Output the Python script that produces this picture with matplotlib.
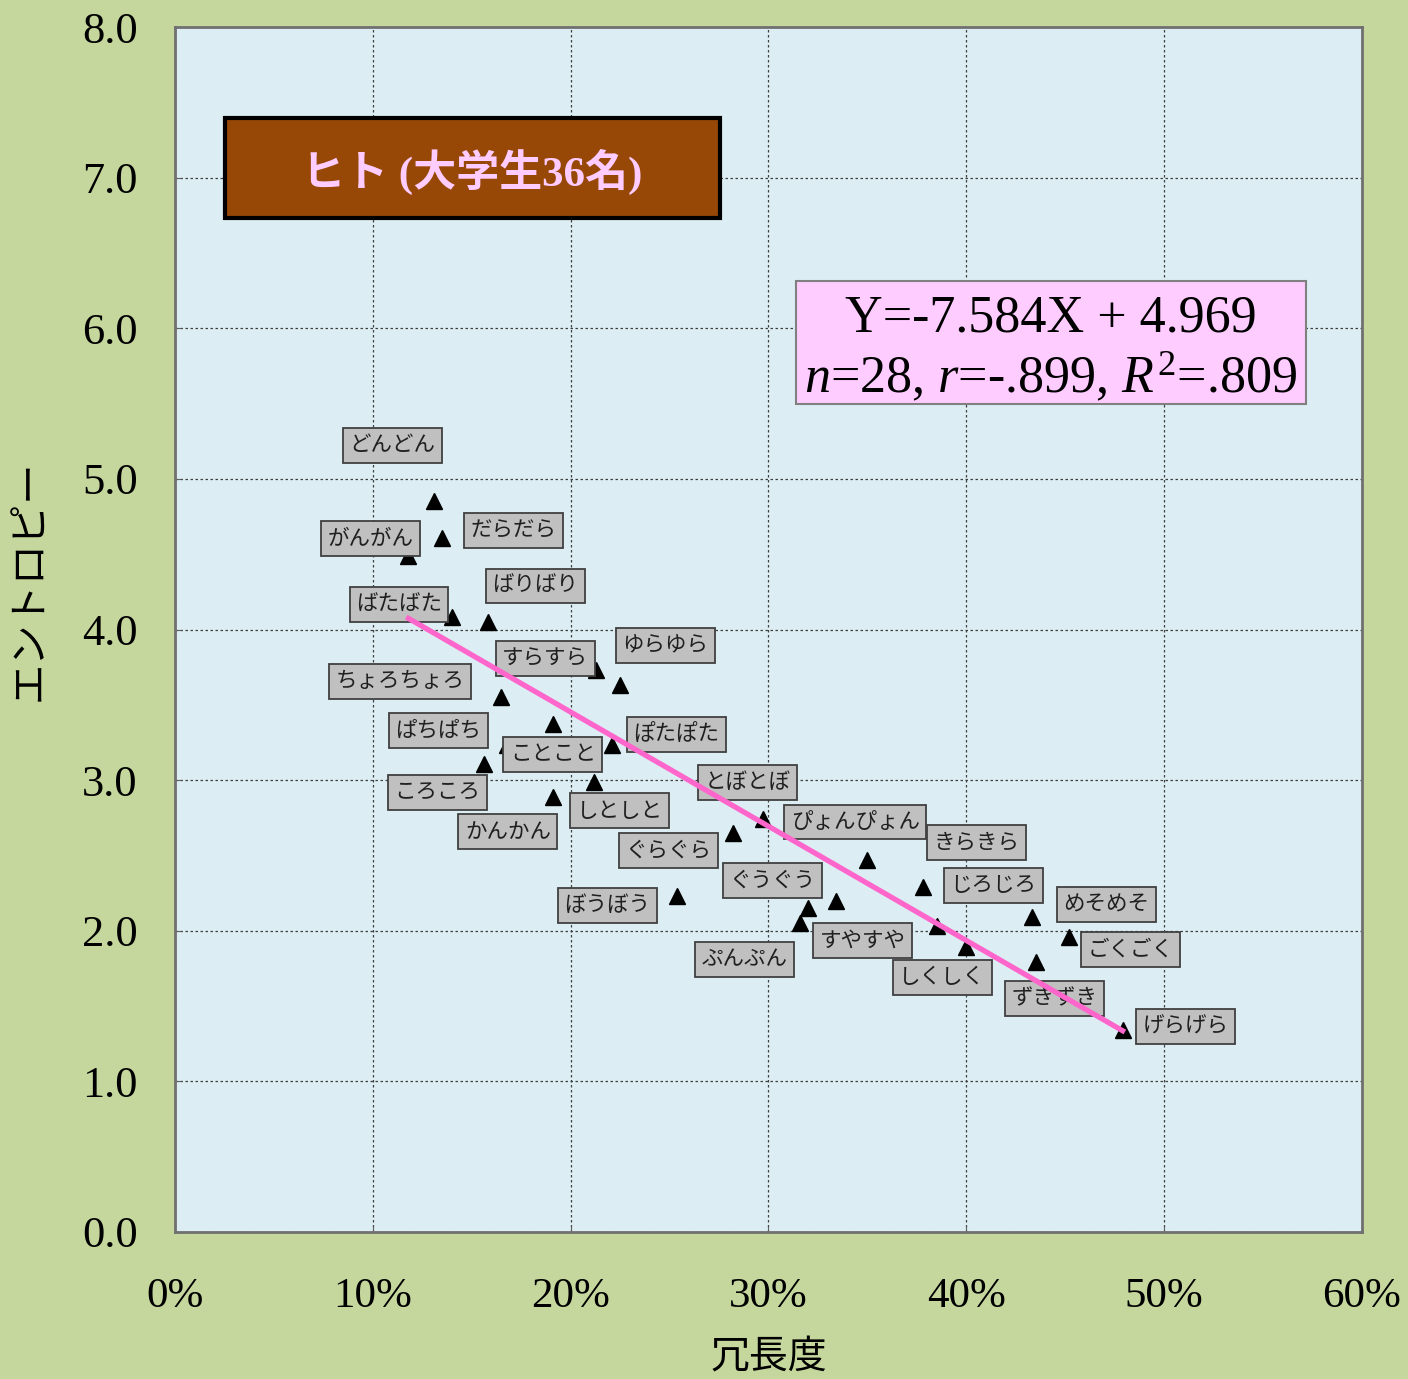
import matplotlib
matplotlib.use('Agg')
import matplotlib.pyplot as plt
from matplotlib.patches import Rectangle
from matplotlib.ticker import FuncFormatter

plt.rcParams['font.family'] = ['Liberation Serif', 'Noto Sans CJK JP']
plt.rcParams['mathtext.fontset'] = 'custom'
plt.rcParams['mathtext.rm'] = 'Liberation Serif'
plt.rcParams['mathtext.it'] = 'Liberation Serif:italic'

words = ['どんどん', 'がんがん', 'だらだら', 'ばりばり', 'ばたばた', 'すらすら', 'ゆらゆら',
         'ちょろちょろ', 'ぱちぱち', 'ことこと', 'ぽたぽた', 'ころころ', 'しとしと', 'かんかん',
         'とぼとぼ', 'ぐらぐら', 'ぴょんぴょん', 'きらきら', 'ぐうぐう', 'ぼうぼう', 'すやすや',
         'ぷんぷん', 'じろじろ', 'しくしく', 'めそめそ', 'ごくごく', 'ずきずき', 'げらげら']
redundancy = [0.131, 0.118, 0.135, 0.158, 0.140, 0.213, 0.225,
              0.165, 0.168, 0.191, 0.221, 0.156, 0.212, 0.191,
              0.297, 0.282, 0.350, 0.378, 0.320, 0.254, 0.334,
              0.316, 0.385, 0.400, 0.433, 0.452, 0.435, 0.479]
entropy = [4.85, 4.49, 4.61, 4.05, 4.08, 3.73, 3.63,
           3.55, 3.23, 3.37, 3.23, 3.11, 2.99, 2.89,
           2.74, 2.65, 2.47, 2.29, 2.15, 2.23, 2.20,
           2.05, 2.03, 1.89, 2.09, 1.96, 1.79, 1.34]

slope = -7.584
intercept = 4.969

# label box offsets from each point (pixels, x right / y up)
label_offsets = [(-42, 56), (-38, 17), (71, 7), (48, 36), (-53, 13), (-51, 12), (45, 40),
                 (-101, 16), (-69, 15), (0, -30), (64, 11), (-46, -29), (25, -29), (-45, -35),
                 (-15, 37), (-64, -18), (-12, 38), (54, 45), (-36, 28), (-70, -9), (27, -40),
                 (-56, -36), (57, 41), (-24, -30), (75, 13), (61, -13), (19, -36), (63, 4)]

fig = plt.figure(figsize=(14.08, 13.79), dpi=100, facecolor='#C5D79D')
ax = fig.add_axes([0.1243, 0.1066, 0.843, 0.8738], facecolor='#DCEEF4')

ax.plot(redundancy, entropy, linestyle='none', marker='^', color='black',
        markersize=11, zorder=3)

for w, x, y, (dx, dy) in zip(words, redundancy, entropy, label_offsets):
    ax.annotate(w, (x, y), xytext=(dx * 0.72, dy * 0.72), textcoords='offset points',
                ha='center', va='center', fontsize=15.5, color='#202020',
                family=['Noto Sans CJK JP'],
                bbox=dict(boxstyle='square,pad=0.3', fc='#C0C0C0', ec='#404040', lw=1.3),
                zorder=4)

xs = [min(redundancy), max(redundancy)]
ax.plot(xs, [slope * v + intercept for v in xs], color='#FF66CC', lw=3.8, zorder=5)

ax.set_xlim(0, 0.6)
ax.set_ylim(0, 8)
ax.set_xticks([i / 10 for i in range(7)])
ax.set_yticks(range(9))
ax.xaxis.set_major_formatter(FuncFormatter(lambda v, p: f'{v * 100:.0f}%'))
ax.yaxis.set_major_formatter(FuncFormatter(lambda v, p: f'{v:.1f}'))
ax.tick_params(axis='both', direction='in', length=4, color='#606060')
ax.tick_params(axis='x', pad=33, labelsize=31)
ax.tick_params(axis='y', pad=27, labelsize=32)
ax.grid(True, linestyle=(0, (2, 2)), color='#404040', lw=0.9)
for s in ax.spines.values():
    s.set_color('#707070')
    s.set_linewidth(2)

ax.set_xlabel('冗長度', fontsize=28, family=['Noto Sans CJK JP'], va='center')
ax.xaxis.set_label_coords(0.5, -0.1037)
ax.set_ylabel('エントロピー', fontsize=29, family=['Noto Sans CJK JP'], va='center')
ax.yaxis.set_label_coords(-0.122, 0.541)

# title box
ax.add_patch(Rectangle((0.0421, 0.8415), 0.417, 0.083, transform=ax.transAxes,
                       fc='#974706', ec='black', lw=3, zorder=6))
ax.text(0.2505, 0.8797, 'ヒト (大学生36名)', transform=ax.transAxes, ha='center',
        va='center', fontsize=31, fontweight='bold', color='#FFCCFF', zorder=7)

# equation box
ax.add_patch(Rectangle((0.523, 0.687), 0.430, 0.102, transform=ax.transAxes,
                       fc='#FFCCFF', ec='#808080', lw=1.5, zorder=6))
ax.text(0.738, 0.758, 'Y=-7.584X + 4.969', transform=ax.transAxes, ha='center',
        va='center', fontsize=37.5, zorder=7)
ax.text(0.738, 0.710, r'$n$=28, $r$=-.899, $R^2$=.809', transform=ax.transAxes,
        ha='center', va='center', fontsize=37.5, zorder=7)

fig.savefig('out.png', dpi=100, facecolor=fig.get_facecolor())
